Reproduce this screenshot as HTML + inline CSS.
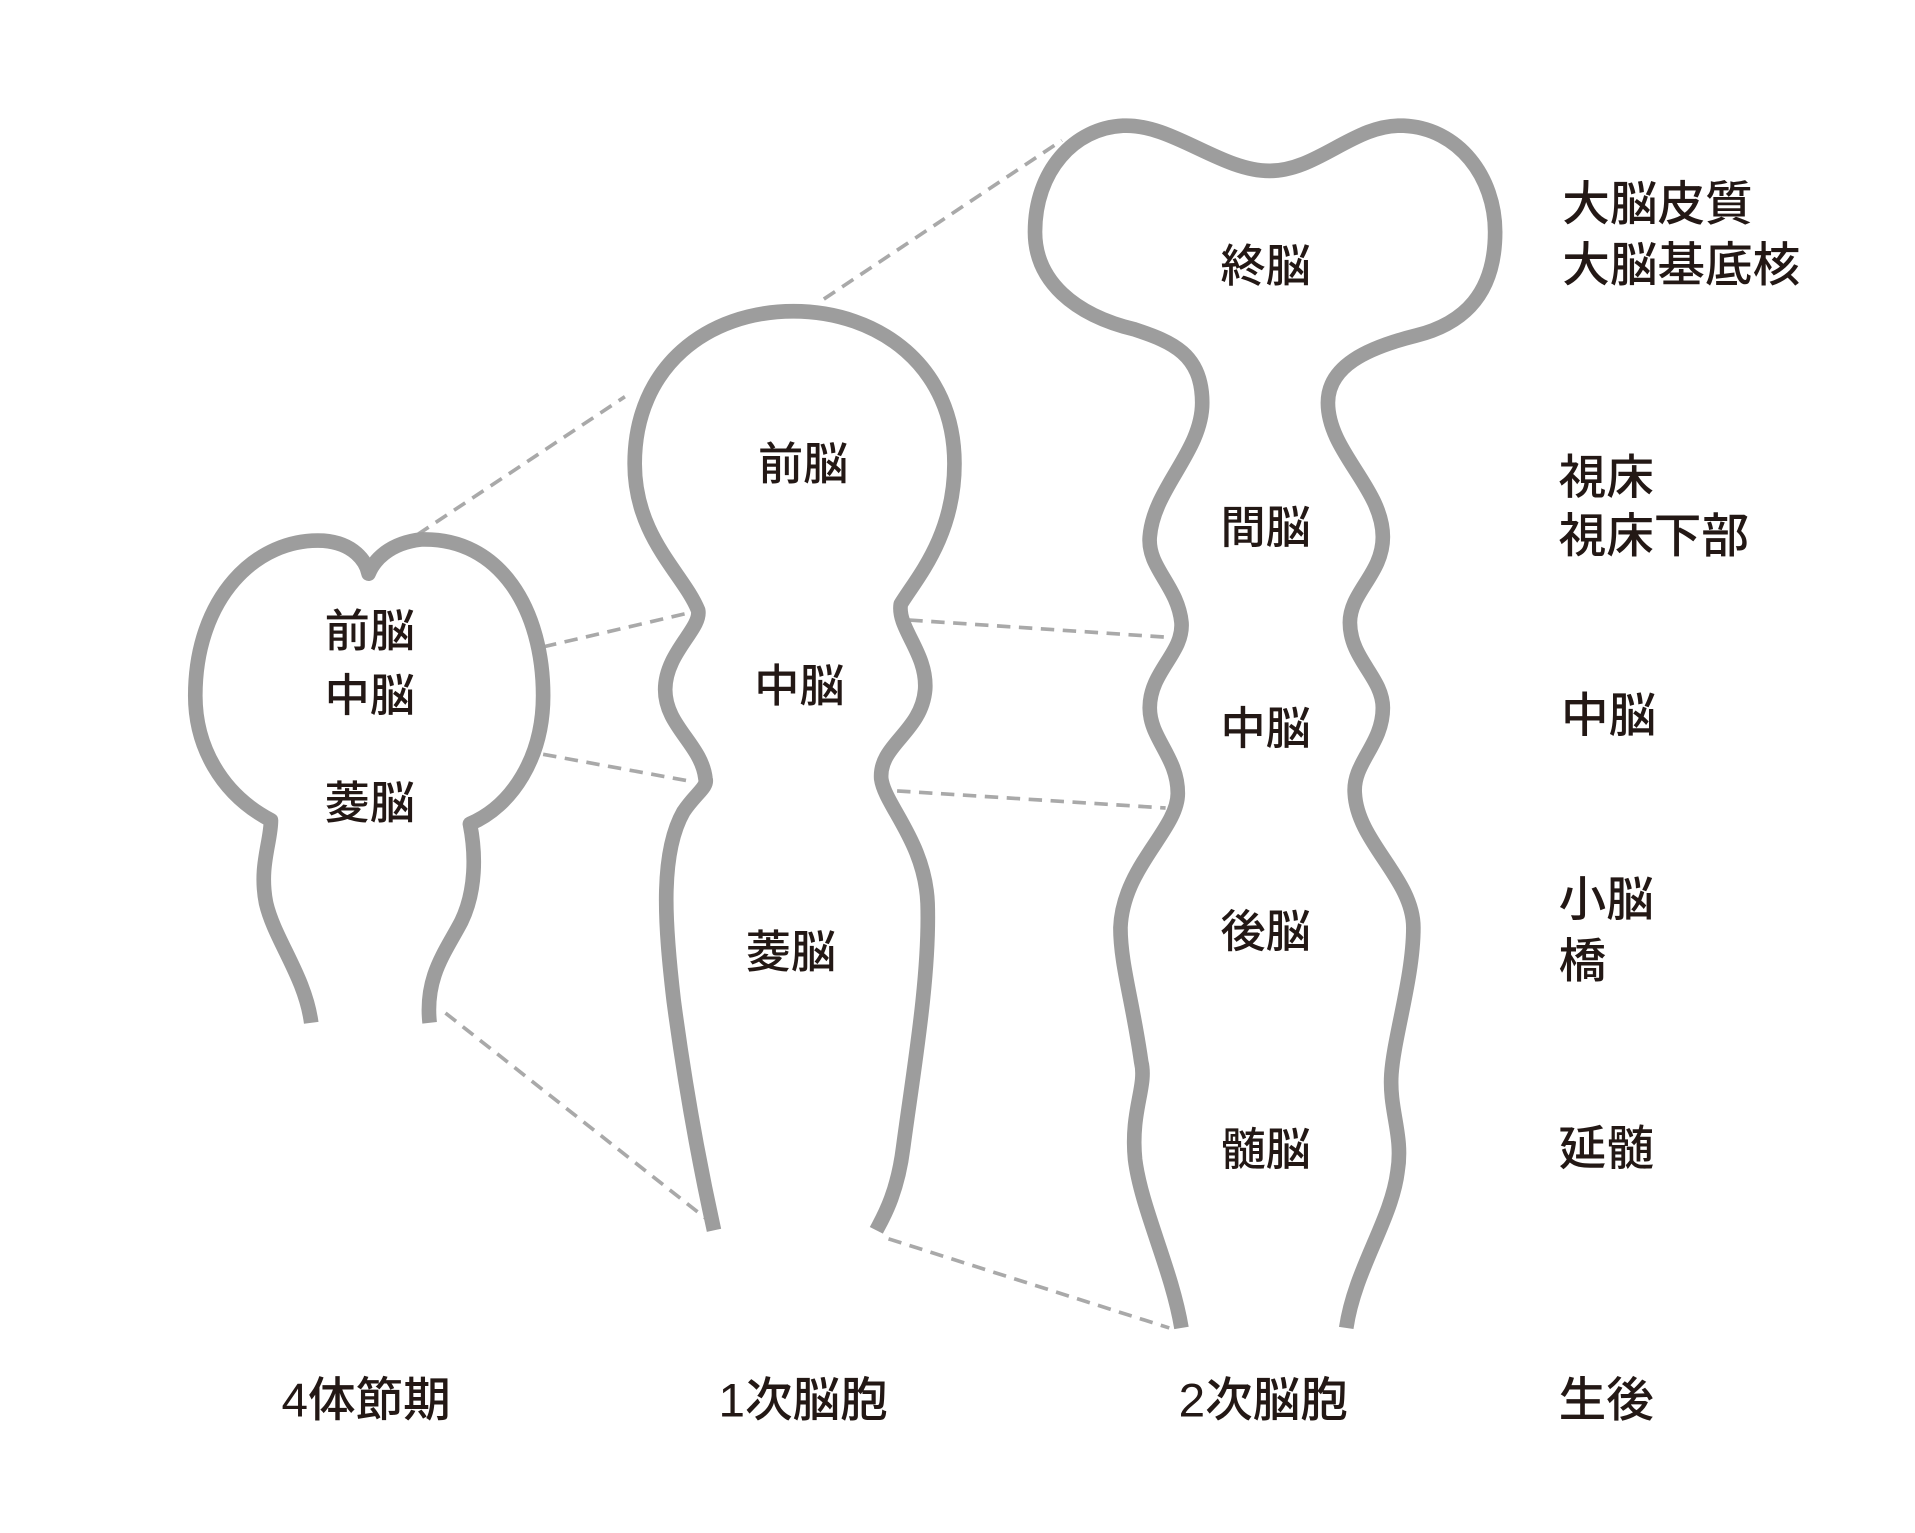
<!DOCTYPE html>
<html><head><meta charset="utf-8"><style>
html,body{margin:0;padding:0;background:#fff;}
svg{display:block;}
text{font-family:"Liberation Sans","Noto Sans CJK JP",sans-serif;fill:#231815;font-weight:500;}
</style></head><body>
<svg width="1915" height="1533" viewBox="0 0 1569 1256" xmlns="http://www.w3.org/2000/svg">
<g fill="none" stroke="#a9a9a9" stroke-width="3" stroke-dasharray="11 7">
<line x1="342" y1="438" x2="512" y2="325"/>
<line x1="445" y1="530" x2="565" y2="502"/>
<line x1="445" y1="618" x2="565" y2="640"/>
<line x1="365" y1="830" x2="578" y2="998"/>
<line x1="675" y1="245" x2="870" y2="115"/>
<line x1="745" y1="508" x2="955" y2="522"/>
<line x1="735" y1="648" x2="955" y2="662"/>
<line x1="728" y1="1015" x2="958" y2="1088"/>
</g>
<g fill="none" stroke="#9d9d9d" stroke-width="12" stroke-linecap="butt" stroke-linejoin="round">
<path d="M255,838 C250,800 225,770 218,740 C212,710 222,690 222,672 C180,650 160,610 160,570 C160,490 210,440 265,443 C290,445 300,460 302,470 C306,460 318,445 345,442 C410,440 445,500 445,570 C445,620 420,660 385,675 C390,700 390,730 378,755 C365,780 348,800 352,838"/>
<path d="M585,1008 C570,940 560,880 552,820 C545,760 540,700 560,665 C570,650 580,645 578,638 C575,610 545,595 545,565 C545,535 575,515 572,500 C560,470 520,440 520,380 C520,300 580,255 650,255 C720,255 782,300 782,380 C782,440 750,475 738,495 C735,515 760,535 758,565 C755,600 720,610 722,638 C725,660 758,690 760,740 C762,800 748,880 740,940 C735,980 722,1000 718,1008"/>
<path d="M968,1088 C960,1040 935,990 930,950 C926,910 940,890 935,870 C928,820 918,790 918,760 C920,710 965,680 965,650 C965,620 942,605 942,580 C942,550 970,535 968,510 C965,480 940,465 942,440 C945,400 985,370 985,330 C985,290 960,280 930,270 C880,258 848,230 848,190 C848,140 880,105 920,103 C960,101 1000,140 1040,140 C1080,140 1110,101 1150,103 C1195,105 1225,145 1225,190 C1225,240 1200,265 1160,275 C1120,285 1088,300 1088,330 C1088,370 1133,400 1133,440 C1133,470 1106,485 1106,510 C1106,540 1133,555 1133,580 C1133,610 1108,625 1110,650 C1112,690 1158,720 1158,760 C1158,800 1142,850 1140,880 C1138,910 1150,930 1145,960 C1140,1000 1110,1040 1103,1088"/>
</g>
<g font-size="37" text-anchor="middle" dominant-baseline="central">
<text x="303" y="517">前脳</text>
<text x="303" y="570">中脳</text>
<text x="303" y="658">菱脳</text>
<text x="658" y="380">前脳</text>
<text x="655" y="562">中脳</text>
<text x="648" y="780">菱脳</text>
<text x="1037" y="218">終脳</text>
<text x="1037" y="432">間脳</text>
<text x="1037" y="597">中脳</text>
<text x="1037" y="763">後脳</text>
<text x="1037" y="942">髄脳</text>
<text x="300" y="1148" font-size="39">4体節期</text>
<text x="658" y="1148" font-size="39">1次脳胞</text>
<text x="1035" y="1148" font-size="39">2次脳胞</text>
</g>
<g font-size="39" dominant-baseline="central">
<text x="1280" y="168">大脳皮質</text>
<text x="1280" y="218">大脳基底核</text>
<text x="1277" y="392">視床</text>
<text x="1277" y="440">視床下部</text>
<text x="1279" y="587">中脳</text>
<text x="1277" y="738">小脳</text>
<text x="1277" y="788">橋</text>
<text x="1277" y="942">延髄</text>
<text x="1277" y="1148">生後</text>
</g>
</svg>
</body></html>
